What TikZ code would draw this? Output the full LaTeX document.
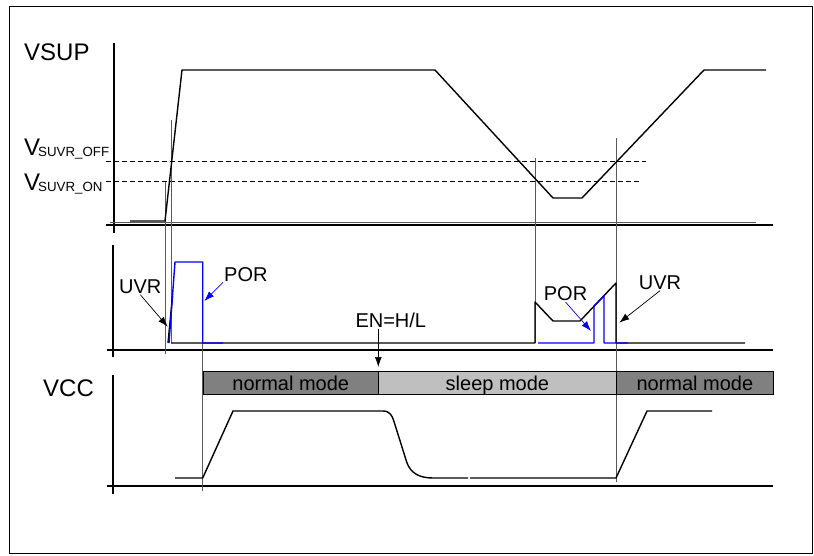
\documentclass[tikz,border=0pt]{standalone}
\usepackage{fontspec}
\setmainfont{Liberation Sans}
\usetikzlibrary{arrows.meta}
\definecolor{normalgray}{gray}{0.5}
\definecolor{sleepgray}{gray}{0.75}
\definecolor{guidegray}{gray}{0.35}
\tikzset{
  sig/.style={line width=1.4pt, line join=round},
  porsig/.style={line width=1.4pt, line join=round, blue},
  axis/.style={line width=1.4pt},
  guide/.style={line width=0.8pt, guidegray},
  thresh/.style={line width=0.8pt, dash pattern=on 5pt off 3pt},
  lbl/.style={font=\fontsize{20}{24}\selectfont, inner sep=1pt, anchor=base west},
  biglbl/.style={font=\fontsize{24}{28}\selectfont, inner sep=0pt, anchor=base west},
  modebox/.style={draw, line width=0.8pt, anchor=north west, minimum height=23.3pt,
    inner sep=0pt, text height=15pt, text depth=0pt, font=\fontsize{20}{24}\selectfont},
  tip/.style={-{Latex[length=10pt,width=7pt]}, line width=0.7pt},
}
\begin{document}
\begin{tikzpicture}[x=1pt, y=-1pt]
  \useasboundingbox (0, 0) rectangle (814, 555);
  \draw[line width=1.8pt] (9.5, 6.5) rectangle (812.5, 553.5);

  \node[biglbl] (vsup) at (24, 60) {VSUP};
  \node[biglbl] (voff) at (24, 155) {V\kern-2pt\raisebox{-1.7pt}{\fontsize{13.3}{14}\selectfont SUVR\_OFF}};
  \node[biglbl] (von) at (24, 190) {V\kern-2pt\raisebox{-1.7pt}{\fontsize{13.3}{14}\selectfont SUVR\_ON}};
  \node[biglbl] (vcc) at (43, 396.7) {VCC};

  \draw[axis] (114, 43) -- (114, 233);
  \draw[axis] (106, 225) -- (773, 225);
  \draw[guide] (110, 222) -- (756, 222);
  \draw[axis] (113, 245) -- (113, 357);
  \draw[axis] (107, 350) -- (773, 350);
  \draw[axis] (113, 375) -- (113, 494);
  \draw[axis] (107, 486) -- (773, 486);

  \draw[thresh] (106, 161) -- (646, 161);
  \draw[thresh] (106, 181.5) -- (641, 181.5);

  \draw[guide] (165, 181.5) -- (165, 354);
  \draw[guide] (171, 120) -- (171, 343);
  \draw[guide] (202.7, 343) -- (202.7, 491);
  \draw[guide] (535, 158) -- (535, 343);
  \draw[guide] (616, 138) -- (616, 482);

  \draw[sig] (130, 221) -- (165, 221) -- (182, 70) -- (435, 70) -- (553, 198)
    -- (582, 198) -- (704, 70) -- (766, 70);

  \draw[sig] (168, 343) -- (172.5, 296);
  \draw[sig] (171, 343) -- (535, 343) -- (535, 302) -- (553, 321) -- (580, 321)
    -- (616, 283) -- (616, 343) -- (745, 343);
  \draw[porsig] (169, 343) -- (175, 262) -- (202.7, 262) -- (202.7, 343) -- (223, 343);
  \draw[porsig] (538, 343) -- (594, 343) -- (594, 306.2) -- (604, 295.7) -- (604, 343) -- (628, 343);

  \node[lbl] (uvrA) at (118, 293.3) {UVR};
  \node[lbl] (porA) at (223, 281) {POR};
  \node[lbl] (porB) at (542.7, 300.7) {POR};
  \node[lbl] (uvrB) at (637.7, 289.3) {UVR};
  \node[lbl] (en) at (354.3, 327.7) {EN=H/L};
  \coordinate (uvrAtip) at (167.7, 326.7);
  \coordinate (porAtip) at (204.3, 301);
  \coordinate (porBtip) at (591, 331);
  \coordinate (uvrBtip) at (619.3, 322.7);
  \coordinate (entip) at (378.3, 367);
  \draw[tip] (uvrA.south) -- (uvrAtip);
  \draw[tip, blue] (porA.south west) -- (porAtip);
  \draw[tip, blue] (porB.south) -- (porBtip);
  \draw[tip] (uvrB.south) -- (uvrBtip);
  \draw[tip] (en.south -| entip) -- (entip);

  \node[modebox, fill=normalgray, minimum width=175.3pt] (normalA) at (202.7, 371) {normal mode};
  \node[modebox, fill=sleepgray, minimum width=238pt] (sleep) at (378, 371) {sleep mode};
  \node[modebox, fill=normalgray, minimum width=157pt] (normalB) at (616, 371) {normal mode};

  \draw[sig] (175, 478) -- (202.7, 478) -- (233, 411) -- (383, 411)
    .. controls (390, 411) and (392, 416) .. (393.5, 420) -- (407, 463)
    .. controls (411, 473) and (419, 478) .. (433, 478) -- (468, 478);
  \draw[sig] (470, 478) -- (616, 478) -- (647, 411) -- (712, 411);
\end{tikzpicture}
\end{document}
